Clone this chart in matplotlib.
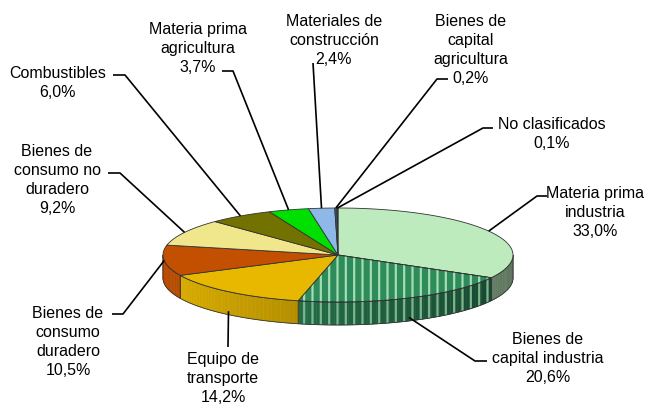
"""3D-style pie of import shares by economic use (Excel look)."""

import matplotlib.pyplot as plt
from matplotlib.colors import to_rgb
from matplotlib.patches import Polygon
import numpy as np

plt.rcParams["font.family"] = ["Liberation Sans", "DejaVu Sans"]
plt.rcParams["hatch.linewidth"] = 1.6

# ---- data -------------------------------------------------------------
categories = [
    "Materia prima industria",
    "Bienes de capital industria",
    "Equipo de transporte",
    "Bienes de consumo duradero",
    "Bienes de consumo no duradero",
    "Combustibles",
    "Materia prima agricultura",
    "Materiales de construcción",
    "Bienes de capital agricultura",
    "No clasificados",
]
shares = [33.0, 20.6, 14.2, 10.5, 9.2, 6.0, 3.7, 2.4, 0.2, 0.1]
label_lines = [
    ["Materia prima", "industria"],
    ["Bienes de", "capital industria"],
    ["Equipo de", "transporte"],
    ["Bienes de", "consumo", "duradero"],
    ["Bienes de", "consumo no", "duradero"],
    ["Combustibles"],
    ["Materia prima", "agricultura"],
    ["Materiales de", "construcción"],
    ["Bienes de", "capital", "agricultura"],
    ["No clasificados"],
]

# ---- style / layout ---------------------------------------------------
colors = ["#BDEBBD", "#2E8B5C", "#E8B800", "#C25000", "#F0E68C",
          "#727200", "#00E000", "#8DB8E8", "#2F5F8F", "#404040"]
striped = [False, True, False, False, False, False, False, False, False, False]
label_pos = [(595, 198), (548, 344), (223, 364), (68, 318), (57, 156),
             (58, 78), (198, 34), (334, 26), (471, 26), (552, 129)]
ticks = [(547, 537, 196), (487, 475, 361), (228, 228, 347), (112, 123, 314),
         (108, 120, 173), (113, 125, 75), (222, 233, 71), (313, 313, 63),
         (448, 437, 79), (493, 483, 128)]
attach = [0, 0.85, 0.85, 0, 0, 0, 0, 0, 0, 0]

CX, CY, RX, RY, DEPTH = 338, 255, 175, 47, 23
LINE_H = 19
EDGE = "#333333"


def rim(t):
    r = np.radians(t)
    return CX + RX * np.cos(r), CY - RY * np.sin(r)


fig = plt.figure(figsize=(6.52, 4.05), dpi=100)
ax = fig.add_axes([0, 0, 1, 1])
ax.set_xlim(0, 652)
ax.set_ylim(405, 0)
ax.axis("off")

vals = np.asarray(shares, dtype=float)
edges = 90 - 360 * np.concatenate([[0], np.cumsum(vals / vals.sum())])
starts, ends = edges[:-1], edges[1:]

# side walls (front half only)
for i in range(len(vals)):
    t1, t2 = min(starts[i], 0), max(ends[i], -180)
    if t1 <= t2:
        continue
    steps = np.linspace(t1, t2, max(int((t1 - t2) / 1.5), 2) + 1)
    base = np.array(to_rgb(colors[i]))
    for a0, a1 in zip(steps[:-1], steps[1:]):
        k = 0.5 + 0.45 * (1 - np.cos(np.radians((a0 + a1) / 2))) / 2
        c = np.clip(base * k, 0, 1)
        x0, y0 = rim(a0)
        x1, y1 = rim(a1)
        quad = [(x0, y0), (x1, y1), (x1, y1 + DEPTH), (x0, y0 + DEPTH)]
        ax.add_patch(Polygon(quad, closed=True, facecolor=c, edgecolor=c, lw=0.4))
    t = np.linspace(t1, t2, 80)
    xs, ys = rim(t)
    outline = np.column_stack([np.r_[xs, xs[::-1]], np.r_[ys, ys[::-1] + DEPTH]])
    if striped[i]:
        ax.add_patch(Polygon(outline, facecolor="none", edgecolor="#7DB58E",
                             lw=0, hatch="||"))
    ax.add_patch(Polygon(outline, facecolor="none", edgecolor=EDGE, lw=0.6))

# top faces
for i in range(len(vals)):
    t = np.linspace(starts[i], ends[i], max(int(abs(starts[i] - ends[i])), 2) + 1)
    xs, ys = rim(t)
    pts = np.column_stack([np.r_[CX, xs], np.r_[CY, ys]])
    ax.add_patch(Polygon(pts, closed=True, facecolor=colors[i], edgecolor=EDGE, lw=0.6))
    if striped[i]:
        ax.add_patch(Polygon(pts, closed=True, facecolor="none", edgecolor="#A3DDB0",
                             lw=0, hatch="||"))
        ax.add_patch(Polygon(pts, closed=True, facecolor="none", edgecolor=EDGE, lw=0.6))

# labels with leader lines
for i, v in enumerate(vals):
    lines = label_lines[i] + [f"{v:.1f}%".replace(".", ",")]
    x, y0 = label_pos[i]
    for j, s in enumerate(lines):
        ax.text(x, y0 + j * LINE_H, s, ha="center", va="baseline",
                fontsize=11.5, color="black")
    mid = (starts[i] + ends[i]) / 2
    px, py = rim(mid)
    py += DEPTH * attach[i]
    tx0, tx1, ty = ticks[i]
    ax.plot([tx0, tx1, px], [ty, ty, py], color="black", lw=1.2,
            solid_capstyle="butt")

fig.savefig("out.png", dpi=100, facecolor="white")
